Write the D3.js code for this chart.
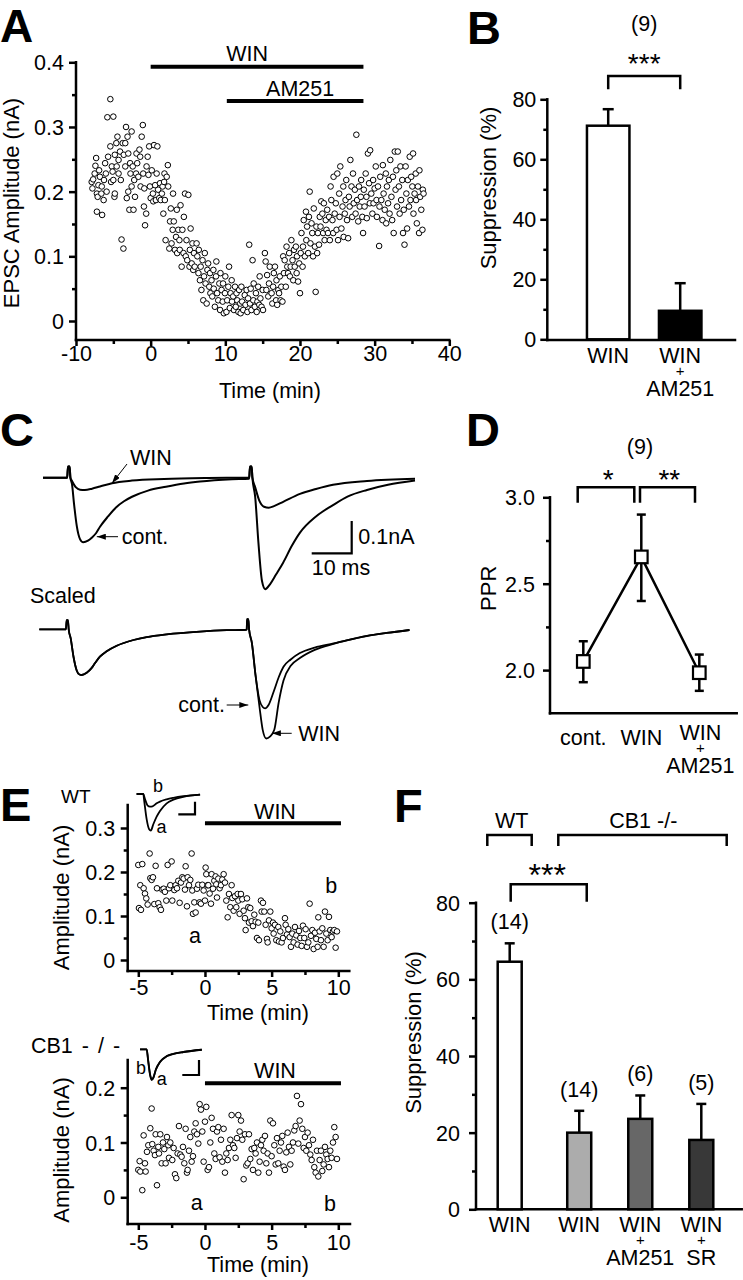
<!DOCTYPE html>
<html><head><meta charset="utf-8">
<script src="https://cdn.jsdelivr.net/npm/d3@7"></script>
<style>
body{margin:0;background:#fff;}
svg{display:block;font-family:"Liberation Sans",Arial,Helvetica,sans-serif;}
</style></head><body>
<svg id="fig" width="743" height="1280"></svg>
<script>
// ================= DATA =================
// Panel A
const aXTicks = [-10,0,10,20,30,40];
const aXTickLabels = ["-10","0","10","20","30","40"];
const aXMinor = [-5,5,15,25,35];
const aYTicks = [0,0.1,0.2,0.3,0.4];
const aYTickLabels = ["0","0.1","0.2","0.3","0.4"];
const aYMinor = [0.05,0.15,0.25,0.35];
const aDrugNames = ["WIN","AM251"];
const aDrugStart = [0,10.2];
const aDrugEnd = [28.5,28.5];
const aPoints = [
[-7.9,.215],[-7.8,.205],[-7.7,.219],[-7.5,.228],[-7.4,.24],[-7.3,.252],[-7.2,.197],[-7.2,.169],[-7.1,.192],[-7.0,.21],[-6.9,.233],[-6.8,.223],[-6.6,.197],[-6.55,.208],[-6.5,.164],[-6.3,.187],[-6.25,.218],[-6.1,.244],[-6.0,.228],[-5.9,.2],
[-5.8,.315],[-5.7,.254],[-5.4,.343],[-5.4,.27],[-5.3,.215],[-5.2,.239],[-5.1,.231],[-5.0,.316],[-5.0,.218],[-4.85,.192],[-4.8,.257],[-4.8,.197],[-4.6,.275],[-4.55,.239],[-4.45,.285],[-4.3,.228],[-4.3,.249],[-4.1,.262],[-4.0,.218],
[-3.9,.126],[-3.75,.275],[-3.65,.112],[-3.6,.257],[-3.4,.239],[-3.4,.275],[-3.3,.3],[-3.2,.19],[-3.1,.285],[-3.0,.2],[-3.0,.259],[-2.85,.172],[-2.75,.244],[-2.7,.228],[-2.55,.293],[-2.55,.208],[-2.4,.239],[-2.3,.172],[-2.2,.218],[-2.1,.192],
[-1.95,.228],[-1.9,.259],[-1.8,.244],[-1.65,.223],[-1.5,.265],[-1.4,.254],[-1.35,.208],[-1.2,.285],[-1.05,.303],[-1.0,.228],[-0.9,.177],[-0.85,.205],[-0.75,.148],[-0.6,.166],[-0.55,.239],[-0.4,.254],[-0.3,.226],[-0.2,.27],[-0.1,.208],[0,.19],
[0.15,.233],[0.3,.197],[0.35,.185],[0.45,.272],[0.6,.21],[0.7,.187],[0.8,.228],[0.9,.27],[1.0,.203],[1.15,.19],[1.25,.213],[1.35,.187],[1.5,.197],[1.6,.208],[1.7,.166],[1.8,.215],[1.85,.228],[1.9,.187],[2.0,.125],
[2.15,.223],[2.3,.241],[2.35,.208],[2.5,.112],[2.6,.154],[2.7,.174],[2.8,.12],[2.95,.141],[3.0,.197],[3.1,.154],[3.25,.11],[3.4,.13],[3.5,.172],[3.55,.105],[3.7,.141],[3.85,.125],[3.9,.11],[4.0,.179],
[4.15,.084],[4.25,.141],[4.4,.105],[4.45,.161],[4.6,.197],[4.7,.1],[4.8,.125],[4.9,.094],[5.05,.195],[5.2,.084],[5.25,.11],[5.35,.143],[5.5,.089],[5.6,.12],[5.7,.079],[5.8,.105],[5.9,.084],
[6.15,.12],[6.25,.1],[6.4,.074],[6.45,.11],[6.6,.063],[6.7,.084],[6.8,.048],[6.95,.094],[7.05,.032],[7.15,.069],[7.25,.105],[7.35,.058],[7.5,.027],[7.6,.079],[7.7,.089],[7.85,.053],[7.95,.074],[8.0,.043],
[8.15,.063],[8.25,.038],[8.4,.079],[8.45,.05],[8.6,.022],[8.75,.069],[8.8,.092],[8.9,.043],[9.05,.032],[9.2,.058],[9.3,.017],[9.35,.074],[9.5,.048],[9.65,.03],[9.7,.058],[9.8,.012],[9.95,.043],[10.0,.069],
[10.15,.014],[10.25,.032],[10.4,.053],[10.5,.084],[10.6,.02],[10.7,.043],[10.85,.063],[10.9,.03],[11.05,.038],[11.15,.017],[11.3,.053],[11.4,.022],[11.5,.043],[11.6,.032],[11.75,.014],[11.85,.048],[12.0,.027],[12.05,.012],
[12.15,.053],[12.25,.03],[12.4,.017],[12.6,.04],[12.7,.025],[12.85,.048],[12.95,.014],[13.05,.035],[13.2,.118],[13.3,.027],[13.4,.05],[13.5,.017],[13.65,.094],[13.75,.032],[13.8,.058],[13.95,.022],
[14.1,.043],[14.2,.014],[14.3,.03],[14.4,.053],[14.55,.025],[14.6,.069],[14.7,.035],[14.85,.022],[15.0,.048],[15.05,.017],[15.3,.105],[15.4,.092],[15.5,.048],[15.6,.071],[15.75,.038],[15.85,.058],[15.95,.084],
[16.2,.043],[16.3,.027],[16.4,.053],[16.5,.074],[16.65,.084],[16.8,.032],[16.85,.063],[16.95,.025],[17.1,.048],[17.2,.043],[17.3,.069],[17.4,.032],[17.5,.053],[17.65,.03],[17.75,.1],[17.85,.074],[17.95,.094],
[18.1,.053],[18.2,.115],[18.3,.084],[18.4,.074],[18.55,.105],[18.65,.069],[18.75,.084],[18.85,.125],[19.0,.094],[19.1,.063],[19.2,.11],[19.3,.084],[19.45,.115],[19.55,.074],[19.6,.1],[19.75,.061],[19.9,.089],[20.0,.043],
[20.1,.105],[20.2,.136],[20.35,.084],[20.4,.115],[20.5,.156],[20.65,.1],[20.8,.169],[20.85,.125],[20.95,.146],[21.1,.105],[21.2,.161],[21.3,.2],[21.4,.12],[21.55,.151],[21.65,.136],[21.75,.1],[21.85,.174],[22.0,.115],
[22.1,.045],[22.2,.146],[22.3,.105],[22.4,.136],[22.55,.118],[22.65,.161],[22.75,.146],[22.85,.185],[23.0,.166],[23.1,.136],[23.2,.182],[23.3,.125],[23.45,.156],[23.55,.141],[23.65,.172],[23.75,.136],[23.9,.161],[24.0,.125],
[24.1,.208],[24.2,.187],[24.35,.156],[24.45,.136],[24.5,.223],[24.65,.166],[24.8,.182],[24.9,.141],[25.0,.228],[25.1,.125],[25.25,.197],[25.3,.161],[25.4,.239],[25.55,.143],[25.7,.177],[25.8,.208],[25.85,.13],[26.0,.166],
[26.1,.187],[26.2,.218],[26.3,.156],[26.45,.128],[26.55,.192],[26.65,.177],[26.75,.249],[26.9,.208],[27.0,.161],[27.1,.228],[27.2,.182],[27.35,.203],[27.45,.166],[27.55,.288],[27.65,.187],[27.8,.154],[27.9,.208],[28.0,.177],
[28.15,.192],[28.2,.218],[28.35,.161],[28.45,.136],[28.55,.203],[28.65,.177],[28.8,.228],[28.9,.192],[28.95,.159],[29.1,.259],[29.25,.213],[29.35,.182],[29.4,.264],[29.55,.197],[29.7,.166],[29.8,.218],[29.85,.182],[30.0,.205],
[30.15,.239],[30.25,.187],[30.3,.161],[30.45,.208],[30.6,.116],[30.65,.177],[30.75,.223],[30.9,.187],[31.05,.156],[31.1,.241],[31.2,.197],[31.35,.172],[31.5,.228],[31.55,.151],[31.65,.208],[31.8,.182],[31.9,.218],[32.0,.166],
[32.1,.249],[32.25,.192],[32.35,.156],[32.45,.223],[32.55,.136],[32.7,.262],[32.8,.203],[32.9,.233],[33.0,.177],[33.1,.262],[33.25,.208],[33.35,.166],[33.45,.239],[33.55,.187],[33.7,.218],[33.8,.136],[33.9,.172],[34.0,.118],
[34.15,.239],[34.25,.197],[34.35,.143],[34.45,.218],[34.6,.177],[34.7,.254],[34.8,.187],[34.9,.223],[35.05,.208],[35.15,.259],[35.2,.166],[35.35,.197],[35.5,.228],[35.55,.187],[35.65,.151],[35.8,.208],[35.95,.136],[36.0,.233],[36.1,.192],[36.25,.172],[36.4,.141],[36.45,.203],[36.55,.197]
];

// Panel B
const bCats = ["WIN","WIN+AM251"];
const bLabelLines = [["WIN"],["WIN","+","AM251"]];
const bMeans = [71.2, 9.5];
const bErr = [5.5, 9.2];
const bFills = ["#ffffff","#000000"];
const bN = "(9)";
const bSig = "***";
const bYTicks = [0,20,40,60,80];
const bYTickLabels = ["0","20","40","60","80"];
const bYMinor = [10,30,50,70];

// Panel C  (time in ms, current in nA; scaled traces normalised to first peak)
const cContTop = [[-6.25,0],[-0.2,0],[0,0.035],[0.4,0.035],[0.6,0],[1,-0.02],[1.5,-0.08],[2.2,-0.15],[3,-0.19],[3.8,-0.2],[5,-0.195],[6,-0.185],[7,-0.172],[8,-0.152],[10,-0.12],[12,-0.092],[14,-0.073],[16,-0.059],[20,-0.04],[24.5,-0.028],[29,-0.018],[33,-0.012],[41,-0.005],[45.3,-0.003],[45.5,0.035],[45.9,0.035],[46.1,0],[46.8,-0.06],[47.6,-0.2],[48.5,-0.32],[49.3,-0.345],[50.5,-0.33],[52,-0.3],[53.75,-0.264],[56,-0.21],[58,-0.17],[62,-0.12],[66.25,-0.085],[70,-0.058],[74.75,-0.038],[80,-0.022],[86.75,-0.009]];
const cWinTop = [[-6.25,0],[-0.2,0],[0,0.035],[0.4,0.035],[0.6,0],[1,-0.01],[2,-0.03],[3,-0.037],[4.2,-0.038],[6,-0.034],[8,-0.027],[11,-0.017],[16,-0.009],[24,-0.004],[35,-0.001],[45.3,0],[45.5,0.035],[45.9,0.035],[46.1,0],[46.8,-0.03],[47.8,-0.07],[49,-0.09],[50.2,-0.093],[51.5,-0.088],[53.9,-0.074],[58,-0.05],[62,-0.035],[66.25,-0.022],[74.75,-0.01],[86.75,-0.003]];
const cScaledFirst = [[-6.85,0],[-0.2,0],[0,0.2],[0.3,0.2],[0.5,0],[1,-0.2],[1.7,-0.6],[2.5,-0.9],[3.2,-0.99],[3.75,-1],[5,-0.95],[6.2,-0.85],[7,-0.75],[8.3,-0.6],[10,-0.48],[12.5,-0.36],[16.7,-0.234],[20,-0.17],[25,-0.11],[33.3,-0.05],[40,-0.02],[44.8,-0.01]];
const cScaledCont2 = [[45,0],[45.1,0.22],[45.4,0.22],[45.6,0],[46.3,-0.3],[47.2,-1.0],[48.2,-1.55],[49,-1.7],[49.6,-1.73],[50.5,-1.65],[51.8,-1.35],[53,-1.05],[54.2,-0.82],[56,-0.66],[58.3,-0.52],[62,-0.4],[66.7,-0.31],[70,-0.24],[75,-0.146],[80,-0.08],[85.7,-0.015]];
const cScaledWin2 = [[45,0],[45.1,0.22],[45.4,0.22],[45.6,0],[46.3,-0.3],[47.2,-1.0],[48.2,-1.7],[49,-2.2],[49.9,-2.39],[50.8,-2.35],[51.9,-2.2],[53,-1.6],[54.2,-1.12],[56,-0.8],[58.3,-0.63],[62,-0.45],[66.7,-0.32],[70,-0.245],[75,-0.148],[80,-0.08],[85.7,-0.015]];

// Panel D
const dCats = ["cont.","WIN","WIN+AM251"];
const dLabelLines = [["cont."],["WIN"],["WIN","+","AM251"]];
const dMeans = [2.05, 2.655, 1.985];
const dLow = [1.93, 2.40, 1.88];
const dHigh = [2.167, 2.90, 2.09];
const dN = "(9)";
const dSigs = ["*","**"];
const dYTicks = [2.0,2.5,3.0];
const dYTickLabels = ["2.0","2.5","3.0"];
const dYMinor = [2.25,2.75];

// Panel E
const eXTicks = [-5,0,5,10];
const eXTickLabels = ["-5","0","5","10"];
const eXMinor = [-2.5,2.5,7.5];
const eTopYTicks = [0,0.1,0.2,0.3];
const eTopYTickLabels = ["0","0.1","0.2","0.3"];
const eTopYMinor = [0.05,0.15,0.25];
const eBotYTicks = [0,0.1,0.2];
const eBotYTickLabels = ["0","0.1","0.2"];
const eBotYMinor = [0.05,0.15];
const eDrug = ["WIN", 0, 10.2];
const eTopPoints = [[-5.0,.216],[-4.95,.118],[-4.85,.17],[-4.8,.114],[-4.7,.218],[-4.6,.163],[-4.5,.151],[-4.4,.14],[-4.3,.126],[-4.15,.242],[-4.1,.186],[-4.0,.182],[-3.9,.188],[-3.8,.127],[-3.7,.214],[-3.6,.163],[-3.5,.129],[-3.4,.12],[-3.3,.114],[-3.2,.16],[-3.1,.162],[-3.0,.155],[-2.9,.135],[-2.8,.216],[-2.7,.163],[-2.6,.17],[-2.5,.224],[-2.45,.135],[-2.3,.159],[-2.2,.17],[-2.1,.163],[-2.0,.18],[-1.9,.13],[-1.8,.176],[-1.7,.188],[-1.6,.185],[-1.5,.16],[-1.45,.213],[-1.35,.122],[-1.3,.188],[-1.2,.17],[-1.1,.182],[-1.0,.242],[-0.95,.158],[-0.9,.105],[-0.8,.131],[-0.7,.108],[-0.6,.162],[-0.5,.171],[-0.4,.131],[-0.3,.128],[-0.2,.171],[-0.1,.158],[0.0,.135],[0.05,.21],[0.1,.195],[0.2,.17],[0.25,.17],[0.35,.151],[0.45,.128],[0.5,.195],[0.6,.162],[0.7,.18],[0.8,.19],[0.85,.172],[0.9,.142],[1.0,.185],[1.1,.163],[1.2,.17],[1.3,.183],[1.4,.195],[1.5,.176],[1.6,.135],[1.7,.097],[1.8,.15],[1.9,.12],[2.0,.17],[2.05,.141],[2.15,.112],[2.25,.145],[2.35,.12],[2.45,.15],[2.5,.135],[2.6,.105],[2.7,.15],[2.8,.138],[2.9,.112],[3.0,.095],[3.05,.068],[3.15,.14],[3.25,.12],[3.3,.085],[3.4,.118],[3.5,.088],[3.6,.077],[3.7,.103],[3.8,.087],[3.9,.05],[4.0,.085],[4.05,.045],[4.2,.135],[4.25,.11],[4.35,.13],[4.45,.11],[4.55,.08],[4.65,.048],[4.7,.04],[4.8,.09],[4.9,.11],[5.0,.072],[5.1,.085],[5.15,.06],[5.25,.08],[5.35,.045],[5.5,.075],[5.55,.042],[5.65,.065],[5.75,.04],[5.85,.05],[6.0,.095],[6.05,.08],[6.15,.058],[6.25,.07],[6.35,.052],[6.45,.03],[6.55,.06],[6.65,.04],[6.75,.075],[6.85,.056],[6.95,.035],[7.05,.066],[7.15,.05],[7.25,.032],[7.35,.078],[7.45,.05],[7.55,.07],[7.65,.03],[7.75,.04],[7.85,.128],[7.95,.055],[8.05,.068],[8.15,.025],[8.25,.062],[8.35,.048],[8.45,.03],[8.5,.097],[8.6,.065],[8.7,.045],[8.8,.072],[8.9,.03],[9.0,.11],[9.1,.06],[9.2,.045],[9.3,.098],[9.4,.068],[9.5,.052],[9.6,.065],[9.7,.068],[9.8,.028],[9.9,.065]];
const eBotPoints = [[-5.0,.05],[-4.9,.066],[-4.85,.047],[-4.7,.013],[-4.6,.113],[-4.5,.062],[-4.45,.047],[-4.35,.083],[-4.25,.095],[-4.1,.126],[-4.0,.162],[-3.95,.097],[-3.85,.085],[-3.75,.077],[-3.7,.115],[-3.6,.022],[-3.5,.092],[-3.45,.08],[-3.35,.115],[-3.25,.062],[-3.15,.1],[-3.05,.088],[-2.95,.062],[-2.85,.11],[-2.75,.095],[-2.7,.072],[-2.6,.1],[-2.45,.068],[-2.35,.09],[-2.25,.042],[-2.15,.035],[-2.05,.08],[-1.95,.13],[-1.85,.078],[-1.75,.074],[-1.65,.092],[-1.55,.062],[-1.45,.125],[-1.35,.045],[-1.3,.05],[-1.2,.085],[-1.1,.11],[-1.0,.065],[-0.9,.075],[-0.8,.12],[-0.7,.135],[-0.6,.115],[-0.5,.098],[-0.4,.17],[-0.3,.16],[-0.2,.12],[-0.1,.065],[0.0,.138],[0.1,.165],[0.2,.05],[0.3,.055],[0.4,.1],[0.5,.145],[0.6,.125],[0.7,.08],[0.8,.07],[0.9,.12],[1.0,.128],[1.1,.073],[1.2,.105],[1.3,.065],[1.4,.125],[1.5,.045],[1.6,.08],[1.7,.068],[1.8,.09],[1.9,.105],[2.0,.15],[2.1,.095],[2.2,.09],[2.3,.072],[2.4,.108],[2.5,.15],[2.6,.12],[2.7,.14],[2.8,.105],[2.9,.033],[3.0,.115],[3.1,.058],[3.2,.062],[3.3,.115],[3.4,.07],[3.5,.088],[3.6,.05],[3.7,.09],[3.8,.08],[3.9,.1],[4.0,.045],[4.1,.065],[4.2,.095],[4.3,.105],[4.4,.085],[4.5,.112],[4.6,.062],[4.7,.08],[4.8,.045],[4.9,.14],[5.0,.075],[5.1,.135],[5.2,.095],[5.3,.06],[5.4,.108],[5.5,.062],[5.6,.085],[5.7,.1],[5.8,.112],[5.9,.056],[6.0,.05],[6.1,.082],[6.2,.118],[6.3,.092],[6.4,.06],[6.5,.085],[6.6,.1],[6.7,.122],[6.8,.13],[6.9,.185],[7.0,.098],[7.1,.14],[7.2,.17],[7.3,.125],[7.4,.09],[7.5,.11],[7.6,.085],[7.7,.118],[7.8,.095],[7.9,.078],[8.0,.068],[8.1,.105],[8.2,.055],[8.3,.045],[8.4,.085],[8.5,.038],[8.6,.068],[8.7,.085],[8.8,.048],[8.9,.06],[9.0,.092],[9.1,.078],[9.2,.07],[9.3,.055],[9.4,.085],[9.5,.072],[9.6,.1],[9.7,.128],[9.8,.11],[9.9,.07]];
// insets (ms, nA)
const eTopInsetA = [[-4,0],[0,0],[0.5,-0.05],[2,-0.2],[3.5,-0.28],[4.5,-0.29],[6,-0.24],[8,-0.18],[10,-0.135],[14,-0.074],[18,-0.045],[24,-0.022],[34,-0.005]];
const eTopInsetB = [[-4,0],[0,0],[1,-0.04],[2.5,-0.09],[4,-0.1],[5.5,-0.098],[8,-0.074],[10,-0.06],[14,-0.042],[18,-0.03],[24,-0.017],[34,-0.005]];
const eBotInsetA = [[-4,0],[0,0],[0.8,-0.07],[2,-0.17],[3,-0.205],[4,-0.19],[5.5,-0.135],[8,-0.083],[12,-0.045],[16,-0.03],[22,-0.018],[33,-0.003]];
const eBotInsetB = [[-4,0],[0,0],[0.8,-0.065],[2,-0.165],[3,-0.2],[4,-0.188],[5.5,-0.135],[8,-0.085],[12,-0.047],[16,-0.031],[22,-0.018],[33,-0.003]];

// Panel F
const fCats = ["WT WIN","CB1 WIN","CB1 WIN+AM251","CB1 WIN+SR"];
const fLabelLines = [["WIN"],["WIN"],["WIN","+","AM251"],["WIN","+","SR"]];
const fMeans = [64.6, 20.0, 23.6, 18.1];
const fErr = [4.8, 5.7, 6.1, 9.4];
const fN = ["(14)","(14)","(6)","(5)"];
const fFills = ["#ffffff","#acacac","#676767","#383838"];
const fGroups = ["WT","CB1 -/-"];
const fSig = "***";
const fYTicks = [0,20,40,60,80];
const fYTickLabels = ["0","20","40","60","80"];
const fYMinor = [10,30,50,70];

// ================= DRAWING =================
const FONT = '"Liberation Sans", Arial, Helvetica, sans-serif';
const SW = 2.5;
const svg = d3.select("#fig");
svg.append("rect").attr("width",743).attr("height",1280).attr("fill","#fff");
const defs = svg.append("defs");
defs.append("marker").attr("id","arr").attr("viewBox","0 0 9 6").attr("refX",9).attr("refY",3)
  .attr("markerWidth",9).attr("markerHeight",6).attr("markerUnits","userSpaceOnUse").attr("orient","auto")
  .append("path").attr("d","M0,0L9,3L0,6Z").attr("fill","#000");

function txt(x,y,s,size=21.5,anchor="middle",weight="normal"){
  return svg.append("text").attr("x",x).attr("y",y).attr("font-size",size)
    .attr("text-anchor",anchor).attr("font-weight",weight).attr("fill","#000").text(s);
}
function vtxt(x,y,s,size=22){
  return svg.append("text").attr("transform",`translate(${x},${y}) rotate(-90)`)
    .attr("font-size",size).attr("text-anchor","middle").attr("fill","#000").text(s);
}
function line(x1,y1,x2,y2,w=SW){
  return svg.append("line").attr("x1",x1).attr("y1",y1).attr("x2",x2).attr("y2",y2)
    .attr("stroke","#000").attr("stroke-width",w);
}
function bracket(x1,x2,yTop,yBot){
  svg.append("path").attr("d",`M${x1},${yBot}V${yTop}H${x2}V${yBot}`)
    .attr("fill","none").attr("stroke","#000").attr("stroke-width",SW);
}
function leftAxis(scale,x,ticks,labels,minor,pad,yTop,yBot){
  const g = svg.append("g").attr("transform",`translate(${x},0)`)
    .call(d3.axisLeft(scale).tickValues(ticks).tickFormat((d,i)=>labels[i]).tickSize(7).tickPadding(pad));
  g.attr("font-size",21.5).attr("font-family",FONT);
  g.select(".domain").remove();
  g.selectAll(".tick line").attr("stroke-width",SW);
  g.selectAll(".tick text").attr("dy","0.35em").attr("fill","#000");
  if(minor){
    const m = svg.append("g").attr("transform",`translate(${x},0)`)
      .call(d3.axisLeft(scale).tickValues(minor).tickFormat("").tickSize(4));
    m.select(".domain").remove();
    m.selectAll(".tick line").attr("stroke-width",SW);
  }
  line(x,yTop,x,yBot).attr("stroke-linecap","square");
}
function bottomAxis(scale,y,ticks,labels,minor,pad,x0,x1){
  if(ticks){
    const g = svg.append("g").attr("transform",`translate(0,${y})`)
      .call(d3.axisBottom(scale).tickValues(ticks).tickFormat((d,i)=>labels[i]).tickSize(6).tickPadding(pad));
    g.attr("font-size",21.5).attr("font-family",FONT);
    g.select(".domain").remove();
    g.selectAll(".tick line").attr("stroke-width",SW);
    g.selectAll(".tick text").attr("fill","#000");
  }
  if(minor){
    const m = svg.append("g").attr("transform",`translate(0,${y})`)
      .call(d3.axisBottom(scale).tickValues(minor).tickFormat("").tickSize(4));
    m.select(".domain").remove();
    m.selectAll(".tick line").attr("stroke-width",SW);
  }
  line(x0,y,x1,y).attr("stroke-linecap","square");
}
function scatter(points,xs,ys){
  svg.append("g").selectAll("circle").data(points).join("circle")
    .attr("cx",d=>xs(d[0])).attr("cy",d=>ys(d[1])).attr("r",2.8)
    .attr("fill","#fff").attr("stroke","#000").attr("stroke-width",1);
}
function trace(data,xs,ys,w=2){
  const gen = d3.line().x(d=>xs(d[0])).y(d=>ys(d[1])).curve(d3.curveMonotoneX);
  svg.append("path").datum(data).attr("d",gen).attr("fill","none").attr("stroke","#000")
    .attr("stroke-width",w).attr("stroke-linejoin","round");
}
function stackedLabels(lines,x,y0){
  const offs=[0,13,33], sizes=[21.5,15,21.5];
  lines.forEach((s,i)=>txt(x,y0+offs[i],s,sizes[i]));
}
function panelLetter(x,y,s,size=47){ txt(x,y,s,size,"start","bold"); }

// ---------- Panel A ----------
{
  const x = d3.scaleLinear().domain([-10,40]).range([76,449.3]);
  const y = d3.scaleLinear().domain([0,0.4]).range([321,62.3]);
  const axisY = 340;
  leftAxis(y,76,aYTicks,aYTickLabels,aYMinor,5,y(0.4),axisY);
  bottomAxis(x,axisY,aXTicks,aXTickLabels,aXMinor,0,76,449.3);
  scatter(aPoints,x,y);
  const rows=[66.7,101], lab=[60.7,96];
  aDrugNames.forEach((n,i)=>{
    line(x(aDrugStart[i]),rows[i],x(aDrugEnd[i]),rows[i],4);
    txt((x(aDrugStart[i])+x(aDrugEnd[i]))/2 + (i===0?-10:5),lab[i],n);
  });
  txt(270,398,"Time (min)");
  vtxt(19,203,"EPSC Amplitude (nA)");
  panelLetter(0,42,"A",46);
}

// ---------- Panel B ----------
{
  const y = d3.scaleLinear().domain([0,80]).range([339.3,99.3]);
  const x = d3.scaleBand().domain(bCats).range([572.2,716.2]).paddingInner(0.41).paddingOuter(0.205);
  leftAxis(y,547.3,bYTicks,bYTickLabels,bYMinor,4,y(80),340);
  bottomAxis(null,340,null,null,null,0,547.3,735);
  bCats.forEach((c,i)=>{
    const cx = x(c)+x.bandwidth()/2;
    line(cx,y(bMeans[i]),cx,y(bMeans[i]+bErr[i]));
    line(cx-5.5,y(bMeans[i]+bErr[i]),cx+5.5,y(bMeans[i]+bErr[i]));
    svg.append("rect").attr("x",x(c)).attr("y",y(bMeans[i])).attr("width",x.bandwidth())
      .attr("height",y(0)-y(bMeans[i])).attr("fill",bFills[i]).attr("stroke","#000").attr("stroke-width",SW);
    stackedLabels(bLabelLines[i],cx,363.3);
  });
  const c0 = x(bCats[0])+x.bandwidth()/2, c1 = x(bCats[1])+x.bandwidth()/2;
  bracket(c0,c1,76,89.3);
  txt((c0+c1)/2,73,bSig,28);
  txt((c0+c1)/2,31,bN);
  vtxt(496,188,"Suppression (%)");
  panelLetter(467,44,"B");
}

// ---------- Panel C ----------
{
  const xT = d3.scaleLinear().domain([0,10]).range([68,108]);
  const yT = d3.scaleLinear().domain([0,-0.1]).range([477.7,510]);
  trace(cWinTop,xT,yT);
  trace(cContTop,xT,yT);
  // annotations
  line(127,464,xT(11),yT(-0.017),1).attr("marker-end","url(#arr)");
  txt(130,465,"WIN",21.5,"start");
  line(118,536.7,xT(7.2),536.7,1).attr("marker-end","url(#arr)");
  txt(121.7,544,"cont.",21.5,"start");
  // scale bar 10 ms / 0.1 nA
  const sbX = 351.7, sbY = 553.3;
  svg.append("path").attr("d",`M${sbX-(xT(10)-xT(0))},${sbY}H${sbX}V${sbY-(yT(-0.1)-yT(0))}`)
    .attr("fill","none").attr("stroke","#000").attr("stroke-width",2.2);
  txt(358.3,544,"0.1nA",21.5,"start");
  txt(311.7,575,"10 ms",21.5,"start");
  txt(30,603.3,"Scaled",21.5,"start");

  const xS = d3.scaleLinear().domain([0,10]).range([66.7,106.7]);
  const yS = d3.scaleLinear().domain([0,-1]).range([629.3,675]);
  trace(cScaledFirst.concat(cScaledWin2),xS,yS,1.8);
  trace(cScaledFirst.concat(cScaledCont2),xS,yS,1.8);
  line(226.7,705,xS(45.4),705,1).attr("marker-end","url(#arr)");
  txt(178.3,711.7,"cont.",21.5,"start");
  line(291.7,733.3,xS(51.3),733.3,1).attr("marker-end","url(#arr)");
  txt(298.3,740.7,"WIN",21.5,"start");
  panelLetter(0,446,"C");
}

// ---------- Panel D ----------
{
  const y = d3.scaleLinear().domain([1.75,3.0]).range([713.3,497.3]);
  const x = d3.scalePoint().domain(dCats).range([583.3,699.3]);
  leftAxis(y,550,dYTicks,dYTickLabels,dYMinor,8,y(3.0),713.3);
  bottomAxis(null,713.3,null,null,null,0,550,736.7);
  const ln = d3.line().x((d,i)=>x(dCats[i])).y(d=>y(d));
  svg.append("path").datum(dMeans).attr("d",ln).attr("fill","none").attr("stroke","#000").attr("stroke-width",SW);
  dCats.forEach((c,i)=>{
    const cx = x(c);
    line(cx,y(dLow[i]),cx,y(dHigh[i]));
    line(cx-4.5,y(dLow[i]),cx+4.5,y(dLow[i]));
    line(cx-4.5,y(dHigh[i]),cx+4.5,y(dHigh[i]));
  });
  svg.append("g").selectAll("rect").data(dMeans).join("rect")
    .attr("x",(d,i)=>x(dCats[i])-6.3).attr("y",d=>y(d)-6.3).attr("width",12.6).attr("height",12.6)
    .attr("fill","#fff").attr("stroke","#000").attr("stroke-width",2.2);
  dLabelLines.forEach((ls,i)=>{
    if(ls.length===1) txt(x(dCats[i]),745,ls[0]);
    else stackedLabels(ls,x(dCats[i])+1,739.5);
  });
  bracket(577.7,634.3,487.3,502.7);
  bracket(640,695,487.3,502.7);
  txt(608.3,488.5,dSigs[0],28);
  txt(669.3,488.5,dSigs[1],28);
  txt(640,454,dN);
  vtxt(496,588.3,"PPR");
  panelLetter(466,446,"D");
}

// ---------- Panel E ----------
{
  const x = d3.scaleLinear().domain([-5,10]).range([138.3,338.3]);
  // top (WT)
  const yT = d3.scaleLinear().domain([0,0.3]).range([960,828]);
  leftAxis(yT,127.7,eTopYTicks,eTopYTickLabels,eTopYMinor,5.5,805,971);
  bottomAxis(x,971,eXTicks,eXTickLabels,eXMinor,3,127.7,349.3);
  scatter(eTopPoints,x,yT);
  line(x(eDrug[1]),823.3,x(eDrug[2]),823.3,4);
  txt(275,819.3,eDrug[0]);
  txt(195,943.3,"a"); txt(331.3,893.3,"b");
  txt(258,1020,"Time (min)");
  vtxt(69,897.5,"Amplitude (nA)");
  txt(61,803.3,"WT",19,"start");
  // inset
  const xi = d3.scaleLinear().domain([0,10]).range([143.3,160]);
  const yiT = d3.scaleLinear().domain([0,-0.1]).range([794,806.6]);
  trace(eTopInsetA,xi,yiT,1.8);
  trace(eTopInsetB,xi,yiT,1.8);
  svg.append("path").attr("d",`M${195-(xi(10)-xi(0))},814.3H195V${814.3-(yiT(-0.1)-yiT(0))}`)
    .attr("fill","none").attr("stroke","#000").attr("stroke-width",2.2);
  txt(158,791.7,"b",18); txt(161.5,833.3,"a",18);

  // bottom (CB1 -/-)
  const yB = d3.scaleLinear().domain([0,0.2]).range([1197.3,1087.7]);
  leftAxis(yB,127.7,eBotYTicks,eBotYTickLabels,eBotYMinor,5.5,1060,1224);
  bottomAxis(x,1224,eXTicks,eXTickLabels,eXMinor,5,127.7,350);
  scatter(eBotPoints,x,yB);
  line(x(eDrug[1]),1083.3,x(eDrug[2]),1083.3,4);
  txt(275,1078.3,eDrug[0]);
  txt(196.7,1209.5,"a"); txt(330,1211,"b");
  txt(258,1271.7,"Time (min)");
  vtxt(69,1150,"Amplitude (nA)");
  txt(31,1053.3,"CB1 - / -",21.5,"start").attr("word-spacing",3);
  const xi2 = d3.scaleLinear().domain([0,10]).range([146.7,163.4]);
  const yiB = d3.scaleLinear().domain([0,-0.1]).range([1049.3,1064.3]);
  trace(eBotInsetA,xi2,yiB,1.8);
  trace(eBotInsetB,xi2,yiB,1.8);
  svg.append("path").attr("d",`M${199-(xi2(10)-xi2(0))},1075H199V${1075-(yiB(-0.1)-yiB(0))}`)
    .attr("fill","none").attr("stroke","#000").attr("stroke-width",2.2);
  txt(141,1074,"b",18); txt(161.7,1085,"a",18);
  panelLetter(0,821,"E");
}

// ---------- Panel F ----------
{
  const y = d3.scaleLinear().domain([0,80]).range([1209.3,902.7]);
  const xp = d3.scalePoint().domain(fCats).range([518.2,701.3]);
  const groupGap = -8.5;
  const cx = c => xp(c) + (fCats.indexOf(c)===0 ? groupGap : 0);
  const bw = 24;
  leftAxis(y,476,fYTicks,fYTickLabels,fYMinor,9,y(80),1209.3);
  bottomAxis(null,1209.3,null,null,null,0,476,741.7);
  fCats.forEach((c,i)=>{
    const m = cx(c);
    line(m,y(fMeans[i]),m,y(fMeans[i]+fErr[i]));
    line(m-5,y(fMeans[i]+fErr[i]),m+5,y(fMeans[i]+fErr[i]));
    svg.append("rect").attr("x",m-bw/2).attr("y",y(fMeans[i])).attr("width",bw)
      .attr("height",y(0)-y(fMeans[i])).attr("fill",fFills[i]).attr("stroke","#000").attr("stroke-width",SW);
    txt(m,y(fMeans[i]+fErr[i])-14,fN[i]);
    stackedLabels(fLabelLines[i],m,1232.3);
  });
  // group brackets
  bracket(487.3,531.7,835,846);
  txt(511.7,828.3,fGroups[0]);
  bracket(558.3,726.7,835,846);
  txt(643.3,828.3,fGroups[1]);
  // significance
  const s0 = cx(fCats[0]), s1 = cx(fCats[1])+7.5;
  bracket(s0+1,s1,884.3,901.7);
  txt(547.3,886,fSig,32);
  vtxt(421,1032.5,"Suppression (%)");
  panelLetter(394,822,"F");
}
</script>
</body></html>
